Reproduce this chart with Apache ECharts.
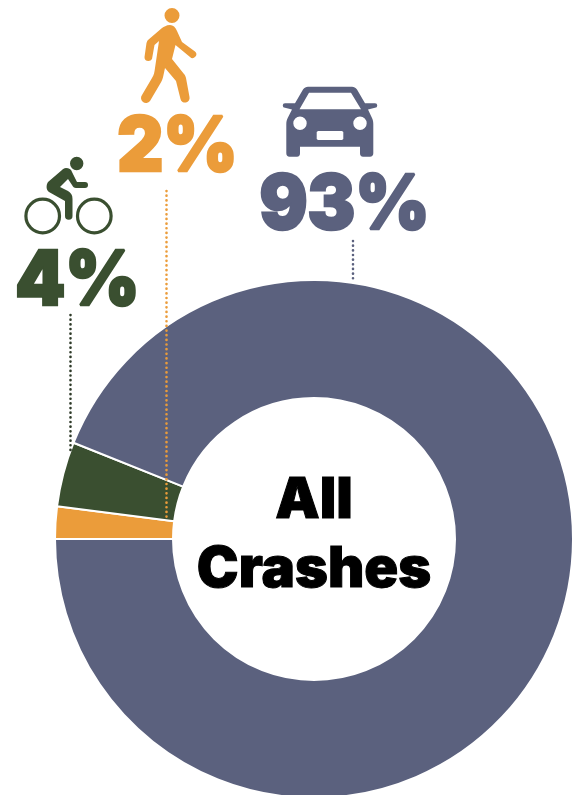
<!DOCTYPE html>
<html>
<head>
<meta charset="utf-8">
<style>html,body{margin:0;padding:0;background:#fff}#chart{width:573px;height:795px}</style>
<script src="https://cdn.jsdelivr.net/npm/echarts@6/dist/echarts.min.js"></script>
</head>
<body>
<div id="chart"></div>
<script>
// Share of all crashes by road user, in drawing order from the left of the ring
const modes = ['Pedestrian', 'Bicycle', 'Vehicle'];
const shares = [2, 4, 93];
const modeColors = ['#EB9C3A', '#3A4F30', '#5B617E'];
const centerTitle = ['All', 'Crashes'];

const WALKER = 'M170 25 C166 25 164 27 162 28 L148 40 C147 41 147 42 146.5 43 L144.5 57 A4 4 0 0 0 152 59 L154.5 45 L159 41 L155 68 C154.5 72 154 75 152 78 L142 95 A4.5 4.5 0 0 0 150 101 L160 84 C162 81 163 78 163.5 75 L165 68 L176 81 L180.5 99 A4.6 4.6 0 0 0 189.5 97 L186 78 C185.5 76 185 75 184 74 L172 59 L175.5 45 L190 57 A3.5 3.5 0 0 0 195 51.5 L182 42 L177 31 C175.5 27 173 25 170 25 Z M164.5 15.5 A7.5 7.5 0 1 0 179.5 15.5 A7.5 7.5 0 1 0 164.5 15.5 Z';
const CYCLIST = 'M66 168 C64 168 63 169 62 170 L48 182 C46 185 46 190 49 192 L65 201 L65 216 A3.5 3.5 0 0 0 72.5 216 L72.5 199 C72.5 195 71 193 68 191 L60 187 L68 179 L72 185 C73 187 74 188 76 188 L85 188 A3 3 0 0 0 85 182 L77 182 L72 172 C71 169 69 168 66 168 Z M70 163.5 A6.7 6.7 0 1 0 83.4 163.5 A6.7 6.7 0 1 0 70 163.5 Z';
const CAR = 'M308 86.7 L352 86.7 C354 86.7 355.5 87.5 357 89.5 L365 103.3 L375 103.3 A2 2 0 0 1 375 107.8 L368 109.5 L372 118 C373 120 373.3 122 373.3 124 L373.3 153.3 C373.3 155.5 372 156.7 370 156.7 L363 156.7 C361 156.7 360 155.5 360 153.3 L360 146.7 L300 146.7 L300 153.3 C300 155.5 299 156.7 297 156.7 L289.5 156.7 C287.5 156.7 286.3 155.5 286.3 153.3 L286.3 124 C286.3 122 286.7 120 287.7 118 L292 109.5 L285 107.8 A2 2 0 0 1 285 103.3 L295 103.3 L303 89.5 C304.5 87.5 306 86.7 308 86.7 Z '
  + 'M309 92.7 L299.5 109.3 L361 109.3 L351 92.7 Z '
  + 'M293.3 123.3 A6.7 6.7 0 0 0 306.7 123.3 A6.7 6.7 0 0 0 293.3 123.3 Z '
  + 'M353.3 123.3 A6.7 6.7 0 0 0 366.7 123.3 A6.7 6.7 0 0 0 353.3 123.3 Z '
  + 'M318 131 L316.7 132 L316.7 139 L318 140 L342 140 L343.3 139 L343.3 132 L342 131 Z';

// Icon outlines become named shapes that the graphic component can place
echarts.graphic.registerShape('walkerIcon', echarts.graphic.extendPath(WALKER, {}));
echarts.graphic.registerShape('cyclistIcon', echarts.graphic.extendPath(CYCLIST, {}));
echarts.graphic.registerShape('carIcon', echarts.graphic.extendPath(CAR, {}));

const pct = v => v + '%';
const heavy = { fontFamily: 'Inter', fontWeight: 900 };

// Big percentage figure above each icon column; a matching stroke thickens the face
function figure(i, x, y) {
  return {
    type: 'text', z: 10, x, y, scaleX: 0.95,
    style: Object.assign({
      text: pct(shares[i]), fill: modeColors[i], fontSize: 75, textAlign: 'center',
      stroke: modeColors[i], lineWidth: 2.6, lineJoin: 'round'
    }, heavy)
  };
}
function caption(text, y) {
  return {
    type: 'text', z: 10, x: 314, y,
    style: Object.assign({
      text, fill: '#000', fontSize: 56, textAlign: 'center',
      stroke: '#000', lineWidth: 1, lineJoin: 'round'
    }, heavy)
  };
}
function icon(type, color) {
  return { type, z: 10, style: { fill: color } };
}
function wheel(cx, color) {
  return { type: 'circle', z: 10, shape: { cx, cy: 216, r: 16.8 }, style: { fill: 'none', stroke: color, lineWidth: 3.2 } };
}
// Dotted leader from a figure down to its slice
function leader(x, y1, y2, color) {
  return {
    type: 'line', z: 9, shape: { x1: x, y1, x2: x, y2 },
    style: { stroke: color, lineWidth: 2.6, lineDash: [0.1, 4.55], lineCap: 'round' }
  };
}

const chart = echarts.init(document.getElementById('chart'), null, { renderer: 'canvas' });
chart.setOption({
  backgroundColor: '#fff',
  animation: false,
  series: [{
    type: 'pie',
    center: [314, 539],
    radius: [141, 259],
    startAngle: 180,
    clockwise: true,
    silent: true,
    label: { show: false },
    labelLine: { show: false },
    itemStyle: { borderColor: '#fff', borderWidth: 2 },
    data: modes.map((name, i) => ({ name, value: shares[i], itemStyle: { color: modeColors[i] } }))
  }],
  graphic: [
    leader(166.5, 191, 520, modeColors[0]),
    leader(70.5, 315, 452, '#2E3A28'),
    leader(353, 241, 281, modeColors[2]),
    icon('walkerIcon', modeColors[0]),
    icon('cyclistIcon', modeColors[1]),
    wheel(42.7, modeColors[1]),
    wheel(94.3, modeColors[1]),
    icon('carIcon', modeColors[2]),
    figure(0, 177.5, 110.5),
    figure(1, 77.5, 244.5),
    figure(2, 344.5, 168.5),
    caption(centerTitle[0], 473.5),
    caption(centerTitle[1], 542.5)
  ]
});
</script>
</body>
</html>
